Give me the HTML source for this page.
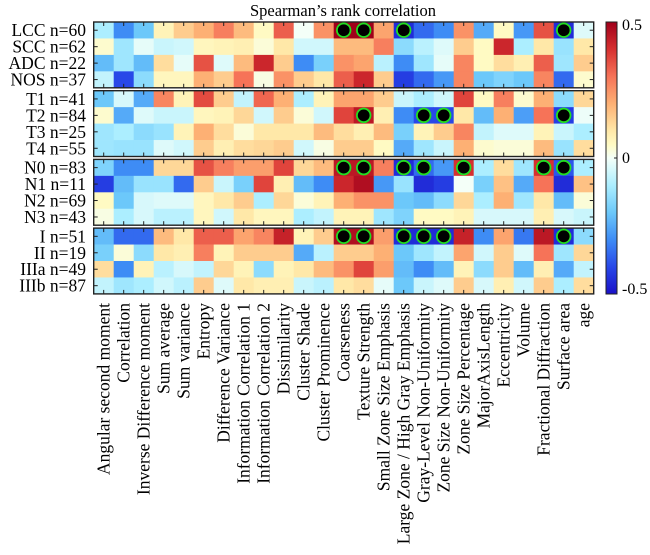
<!DOCTYPE html>
<html><head><meta charset="utf-8">
<style>
html,body{margin:0;padding:0;background:#fff;}
svg{display:block;font-family:"Liberation Serif",serif;}
</style></head>
<body>
<svg id="chart" width="650" height="555" viewBox="0 0 650 555"></svg>
<script>
const rowLabels=["LCC n=60","SCC n=62","ADC n=22","NOS n=37","T1 n=41","T2 n=84","T3 n=25","T4 n=55","N0 n=83","N1 n=11","N2 n=69","N3 n=43","I n=51","II n=19","IIIa n=49","IIIb n=87"];
const colLabels=["Angular second moment","Correlation","Inverse Difference moment","Sum average","Sum variance","Entropy","Difference Variance","Information Correlation 1","Information Correlation 2","Dissimilarity","Cluster Shade","Cluster Prominence","Coarseness","Texture Strength","Small Zone Size Emphasis","Large Zone / High Gray Emphasis","Gray-Level Non-Uniformity","Zone Size Non-Uniformity","Zone Size Percentage","MajorAxisLength","Eccentricity","Volume","Fractional Diffraction","Surface area","age"];
const values=[
[-0.1,-0.3,-0.2,0.07,0.15,0.2,0.28,0.18,0.05,0.33,0.0,0.25,0.5,0.5,0.22,-0.45,-0.35,-0.3,0.25,-0.25,0.05,-0.28,0.35,-0.45,-0.03],
[0.04,-0.12,-0.02,-0.06,-0.05,0.06,0.07,0.08,0.03,0.1,-0.05,-0.05,0.18,0.18,0.28,-0.15,-0.08,-0.03,0.15,0.05,0.42,-0.1,0.1,-0.13,0.1],
[-0.22,-0.12,-0.22,0.12,-0.02,0.35,-0.03,0.18,0.42,0.15,-0.3,-0.18,0.25,0.22,-0.08,-0.3,-0.12,-0.02,0.27,0.05,0.12,0.08,0.33,-0.12,0.15],
[-0.07,-0.4,-0.15,0.06,0.06,0.2,0.15,0.3,0.02,0.25,0.15,0.1,0.33,0.42,0.15,-0.42,-0.35,-0.28,0.27,-0.2,-0.17,-0.2,0.27,-0.35,0.04],
[-0.2,-0.04,-0.25,0.27,0.07,0.36,0.15,-0.07,0.32,0.2,-0.1,0.07,0.22,0.22,0.15,-0.06,-0.1,-0.05,0.37,0.05,0.28,0.04,0.2,-0.15,0.13],
[0.04,-0.25,-0.03,-0.06,-0.06,0.06,0.07,0.13,-0.05,0.15,0.03,-0.05,0.37,0.45,0.08,-0.3,-0.4,-0.4,0.1,-0.22,0.2,-0.27,0.3,-0.42,-0.01],
[-0.12,-0.1,-0.15,-0.13,0.07,0.2,0.12,0.03,0.1,0.1,0.1,0.18,0.12,0.08,0.18,-0.18,0.07,0.15,0.27,-0.07,-0.03,-0.03,0.07,-0.06,-0.1],
[-0.12,-0.13,-0.13,-0.03,-0.05,0.15,0.08,0.12,0.13,0.15,-0.05,0.02,0.15,0.15,0.05,-0.25,-0.12,-0.06,0.2,0.04,0.03,0.03,0.18,-0.13,0.12],
[-0.17,-0.3,-0.3,0.13,0.13,0.35,0.28,0.23,0.23,0.37,0.13,0.18,0.45,0.45,0.28,-0.45,-0.35,-0.28,0.4,-0.1,0.12,-0.12,0.4,-0.38,-0.1],
[-0.42,-0.22,-0.13,-0.13,-0.35,0.15,-0.06,-0.18,0.37,0.08,-0.22,-0.3,0.42,0.47,-0.28,-0.13,-0.45,-0.42,0.0,-0.18,0.17,-0.25,0.3,-0.45,0.17],
[0.05,-0.2,-0.04,-0.03,-0.03,0.06,0.1,0.15,-0.1,0.13,0.03,0.07,0.2,0.25,0.25,-0.2,-0.22,-0.15,0.13,-0.1,0.2,-0.12,0.1,-0.22,0.03],
[0.02,-0.1,-0.04,-0.08,-0.08,0.06,-0.05,0.1,0.06,0.06,-0.1,-0.07,0.07,0.07,-0.12,-0.17,0.05,0.05,0.07,-0.04,-0.04,-0.04,0.08,-0.04,-0.06],
[-0.22,-0.35,-0.35,0.18,0.1,0.33,0.33,0.22,0.27,0.43,0.07,0.15,0.47,0.47,0.23,-0.45,-0.45,-0.45,0.43,-0.3,0.22,-0.33,0.45,-0.45,-0.15],
[-0.18,0.03,-0.15,0.1,0.08,0.28,0.07,0.15,0.15,0.15,-0.25,-0.08,0.15,0.15,0.2,-0.2,-0.12,-0.07,0.22,-0.05,0.15,-0.03,0.3,-0.12,0.13],
[0.12,-0.3,0.07,-0.08,-0.04,-0.07,0.13,0.07,-0.15,0.07,0.1,0.18,0.25,0.37,0.23,-0.22,-0.3,-0.22,0.07,-0.15,0.15,-0.22,0.08,-0.25,-0.07],
[-0.07,-0.12,-0.1,-0.05,-0.08,0.15,-0.03,0.1,0.08,0.08,-0.06,-0.08,0.1,0.12,-0.02,-0.2,-0.06,-0.03,0.15,-0.04,0.08,-0.05,0.15,-0.1,0.12]
];
const sigRowIdx=[0,0,0,0,5,5,5,5,8,8,8,8,8,8,8,12,12,12,12,12,12];
const sigColIdx=[12,13,15,23,13,16,17,23,12,13,15,16,18,22,23,12,13,15,16,17,23];
const cbTicks=[0.5,0,-0.5];
const cbTickLabels=["0.5","0","-0.5"];

const NS="http://www.w3.org/2000/svg";
const svg=document.getElementById('chart');
const X0=93.7, CW=20, PT=[22,90.7,159.4,228.1], PH=65.8, RH=PH/4;
function xCol(c){return X0+c*CW;}
function yRow(r){return PT[Math.floor(r/4)]+(r%4)*RH;}
const stops=[[-0.5,[26,16,200]],[-0.4,[40,72,232]],[-0.3,[62,140,245]],[-0.2,[108,200,250]],[-0.1,[172,238,255]],[0,[244,255,248]],[0.05,[255,250,195]],[0.1,[255,232,168]],[0.2,[253,176,116]],[0.3,[246,115,88]],[0.4,[214,48,48]],[0.5,[160,0,26]]];
function color(v){v=Math.max(-0.5,Math.min(0.5,v));for(let i=1;i<stops.length;i++){if(v<=stops[i][0]){const a=stops[i-1],b=stops[i];const t=(v-a[0])/(b[0]-a[0]);const c=a[1].map((x,k)=>Math.round(x+(b[1][k]-x)*t));return `rgb(${c[0]},${c[1]},${c[2]})`;}}return 'rgb(160,0,26)';}
function el(tag,attrs,parent){const e=document.createElementNS(NS,tag);for(const k in attrs)e.setAttribute(k,attrs[k]);(parent||svg).appendChild(e);return e;}

const title=el('text',{x:343,y:16,'text-anchor':'middle','font-size':16.5});
title.textContent="Spearman\u2019s rank correlation";



for(let r=0;r<values.length;r++){
  for(let c=0;c<values[r].length;c++){
    const rc=el('rect',{x:xCol(c),y:yRow(r),width:CW+0.3,height:RH+0.3,fill:color(values[r][c])});
    
    
  }
  const t=el('text',{x:86,y:yRow(r)+RH/2+6,'text-anchor':'end','font-size':17.5});
  t.textContent=rowLabels[r];
  
  
}
const W=colLabels.length*CW;
for(let p=0;p<4;p++){
  const b=el('rect',{x:X0,y:PT[p],width:W,height:PH,fill:'none',stroke:'#222','stroke-width':1.4});
  
  
  for(let c=0;c<colLabels.length;c++){
    const cx=xCol(c)+CW/2;
    el('line',{x1:cx,x2:cx,y1:PT[p],y2:PT[p]+4,stroke:'#222','stroke-width':1});
    el('line',{x1:cx,x2:cx,y1:PT[p]+PH,y2:PT[p]+PH-4,stroke:'#222','stroke-width':1});
  }
  for(let k=0;k<4;k++){
    const cy=PT[p]+k*RH+RH/2;
    el('line',{x1:X0,x2:X0+4,y1:cy,y2:cy,stroke:'#222','stroke-width':1});
    el('line',{x1:X0+W,x2:X0+W-4,y1:cy,y2:cy,stroke:'#222','stroke-width':1});
  }
}
for(let i=0;i<sigRowIdx.length;i++){
  const m=el('circle',{cx:xCol(sigColIdx[i])+CW/2,cy:yRow(sigRowIdx[i])+RH/2,r:6.8,fill:'#000',stroke:'#22dd22','stroke-width':1.8});
  
  
}
for(let c=0;c<colLabels.length;c++){
  const cx=xCol(c)+CW/2+6;
  const t=el('text',{x:cx,y:303,'text-anchor':'end','font-size':17.5,transform:`rotate(-90 ${cx} 303)`});
  t.textContent=colLabels[c];
  
  
}
const CBX=606,CBW=11,CBT=22,CBB=294;
const defs=el('defs',{});
const g=el('linearGradient',{id:'cbg',x1:0,y1:0,x2:0,y2:1},defs);
for(let i=0;i<=40;i++){const v=0.5-i/40;el('stop',{offset:(i/40),'stop-color':color(v)},g);}
const cb=el('rect',{x:CBX,y:CBT,width:CBW,height:CBB-CBT,fill:'url(#cbg)',stroke:'#222','stroke-width':1});


function yCb(v){return CBT+(0.5-v)*(CBB-CBT);}
for(let i=0;i<cbTicks.length;i++){
  const y=yCb(cbTicks[i]);
  el('line',{x1:CBX+CBW,x2:CBX+CBW-3,y1:y,y2:y,stroke:'#222'});
  const t=el('text',{x:622,y:Math.min(Math.max(y+5,CBT+8),CBB),'font-size':16});
  t.textContent=cbTickLabels[i];
  
  
}
</script>
</body></html>
